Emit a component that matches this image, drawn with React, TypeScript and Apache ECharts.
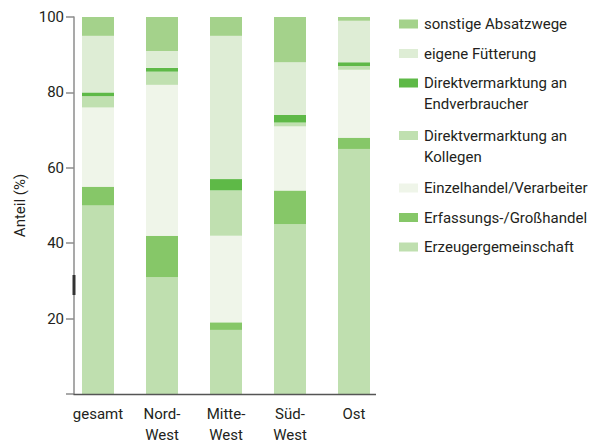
import React, { useEffect, useRef } from "react";
import * as echarts from "echarts";

const categories = ["gesamt", "Nord-\nWest", "Mitte-\nWest", "Süd-\nWest", "Ost"];
const yTicks = [0, 20, 40, 60, 80, 100];

const erzeugergemeinschaft = [50, 31, 17, 45, 65];
const erfassungsGrosshandel = [5, 11, 2, 9, 3];
const einzelhandelVerarbeiter = [21, 40, 23, 17, 18];
const direktKollegen = [3, 3.5, 12, 1, 1];
const direktEndverbraucher = [1, 1, 3, 2, 1];
const eigeneFuetterung = [15, 4.5, 38, 14, 11];
const sonstigeAbsatzwege = [5, 9, 5, 12, 1];

const seriesNames = [
  "Erzeugergemeinschaft",
  "Erfassungs-/Großhandel",
  "Einzelhandel/Verarbeiter",
  "Direktvermarktung an\nKollegen",
  "Direktvermarktung an\nEndverbraucher",
  "eigene Fütterung",
  "sonstige Absatzwege",
];
const seriesData = [
  erzeugergemeinschaft,
  erfassungsGrosshandel,
  einzelhandelVerarbeiter,
  direktKollegen,
  direktEndverbraucher,
  eigeneFuetterung,
  sonstigeAbsatzwege,
];
const seriesColors = ["#bfdfaf", "#86c768", "#eff5e9", "#c0e0b0", "#5eb947", "#deedd5", "#a4d28b"];

const FONT = "Roboto, 'Noto Sans', sans-serif";
const TEXT = "#231f20";

export default function App() {
  const ref = useRef<HTMLDivElement>(null);
  useEffect(() => {
    document.body.style.margin = "0";
    if (!ref.current) return;
    const chart = echarts.init(ref.current, null, { renderer: "svg" });

    const legendGraphics: any[] = [];
    const order = seriesNames.map((_, i) => i).reverse();
    let y = 24;
    order.forEach((i) => {
      const lines = seriesNames[i].split("\n").length;
      legendGraphics.push({
        type: "rect",
        shape: { x: 399, y: y - 4.5, width: 19, height: 9 },
        style: { fill: seriesColors[i] },
      });
      legendGraphics.push({
        type: "text",
        x: 424,
        y: y - 10.5,
        style: {
          text: seriesNames[i],
          fill: TEXT,
          font: `15px ${FONT}`,
          lineHeight: 21,
          verticalAlign: "top",
        },
      });
      y += lines === 1 ? 29.5 : 52.5;
    });

    chart.setOption({
      animation: false,
      textStyle: { fontFamily: FONT },
      grid: { left: 66, right: 203, top: 17, bottom: 51, containLabel: false },
      xAxis: {
        type: "category",
        data: categories,
        axisLine: { show: false },
        axisTick: { show: false },
        axisLabel: { color: TEXT, fontSize: 15, lineHeight: 21, margin: 9, fontFamily: FONT, interval: 0 },
      },
      yAxis: {
        type: "value",
        min: yTicks[0],
        max: yTicks[yTicks.length - 1],
        interval: 20,
        offset: -8,
        name: "Anteil (%)",
        nameLocation: "middle",
        nameGap: 46,
        nameTextStyle: { color: TEXT, fontSize: 15, fontFamily: FONT },
        axisLine: { show: true, lineStyle: { color: "#8c8c8c", width: 1.5 } },
        axisTick: { show: true, length: 8, lineStyle: { color: "#8c8c8c", width: 1.5 } },
        axisLabel: {
          color: TEXT,
          fontSize: 15,
          margin: 10,
          fontFamily: FONT,
          formatter: (v: number) => (v === 0 ? "" : String(v)),
        },
        splitLine: { show: false },
      },
      series: seriesNames.map((name, i) => ({
        name,
        type: "bar",
        stack: "total",
        barWidth: 32,
        data: seriesData[i],
        itemStyle: { color: seriesColors[i] },
        emphasis: { disabled: true },
      })),
      graphic: [
        {
          type: "line",
          shape: { x1: 73.5, y1: 394.5, x2: 376, y2: 394.5 },
          style: { stroke: "#555555", lineWidth: 1.5 },
          z: 10,
        },
        {
          type: "rect",
          shape: { x: 72.5, y: 275, width: 3, height: 20 },
          style: { fill: "#333333" },
          z: 10,
        },
        ...legendGraphics,
      ],
    });
    return () => chart.dispose();
  }, []);
  return <div ref={ref} style={{ width: 589, height: 445 }} />;
}
